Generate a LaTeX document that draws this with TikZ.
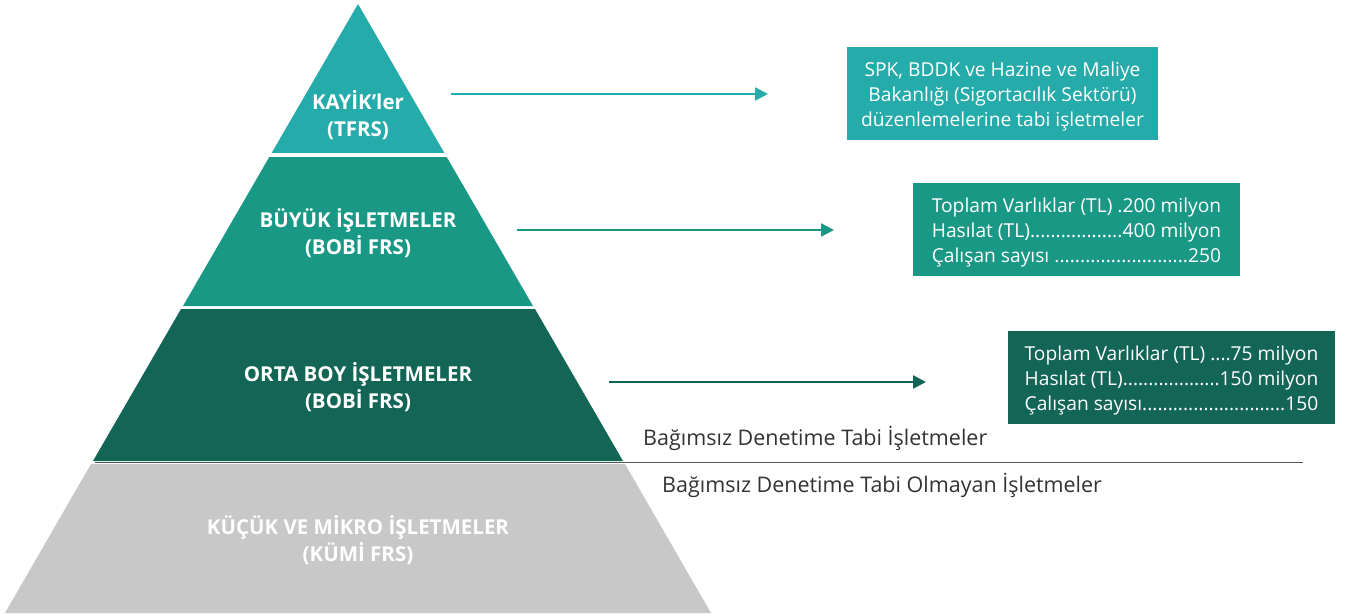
\documentclass[tikz,border=0pt]{standalone}
\usepackage{fontspec}
\setmainfont{Open Sans}
\usetikzlibrary{arrows.meta}
\definecolor{kayik}{HTML}{25ABA9}
\definecolor{buyuk}{HTML}{1A9886}
\definecolor{orta}{HTML}{136556}
\definecolor{kucuk}{HTML}{C8C8C8}
\definecolor{cizgi}{HTML}{555555}
\definecolor{yazi}{HTML}{333333}
\newcommand{\noktalar}{\xleaders\hbox to .26em{\hss.\hss}\hfill}
\newcommand{\satir}[2]{\hbox to \wd0{#1\noktalar#2}}
\newcommand{\asagi}[1]{\raisebox{-3pt}[\height][\depth]{#1}}
\begin{document}
\begin{tikzpicture}[x=1pt,y=-1pt,
    etiket/.style={text=white,font=\bfseries\fontsize{20.5}{27}\selectfont,align=center},
    kutu/.style={minimum width=#1,minimum height=93pt,inner sep=0pt,text=white,
      font=\fontsize{19.2}{25}\selectfont},
    ok/.style={-{Triangle[length=13pt,width=13pt]},line width=2.4pt},
    altyazi/.style={anchor=west,inner sep=0pt,text=yazi,font=\fontsize{21.5}{24}\selectfont}]
\useasboundingbox (0,0) rectangle (1349,615);
\fill[kayik] (358,4) -- (444.4,153) -- (271.6,153) -- cycle;
\fill[buyuk] (269.3,157) -- (446.7,157) -- (533,306) -- (183,306) -- cycle;
\fill[orta] (181,309) -- (535,309) -- (623,461) -- (93,461) -- cycle;
\fill[kucuk] (91,464) -- (625,464) -- (711,613) -- (5,613) -- cycle;
\draw[cizgi,line width=1.8pt] (95,462.5) -- (1303,462.5);
\node[etiket] (kayikler) at (358,115) {KAYİK’ler\\(TFRS)};
\node[etiket] (buyukler) at (358,233) {BÜYÜK İŞLETMELER\\(BOBİ FRS)};
\node[etiket] (ortalar) at (358,387) {ORTA BOY İŞLETMELER\\(BOBİ FRS)};
\node[etiket] (kucukler) at (358,540) {KÜÇÜK VE MİKRO İŞLETMELER\\(KÜMİ FRS)};
\node[kutu=311pt,fill=kayik] (spk) at (1002.5,93.5)
  {\asagi{\begin{tabular}{@{}c@{}}SPK, BDDK ve Hazine ve Maliye\\Bakanlığı (Sigortacılık Sektörü)\\düzenlemelerine tabi işletmeler\end{tabular}}};
\node[kutu=327pt,fill=buyuk] (buyukkutu) at (1076.5,229.5)
  {\setbox0\hbox{Toplam Varlıklar (TL) .200 milyon}\asagi{\vbox{\copy0
   \satir{Hasılat (TL)}{400 milyon}
   \satir{Çalışan sayısı }{250}}}};
\node[kutu=327pt,fill=orta] (ortakutu) at (1171.5,377.5)
  {\setbox0\hbox{Toplam Varlıklar (TL) ....75 milyon}\asagi{\vbox{\copy0
   \satir{Hasılat (TL)}{150 milyon}
   \satir{Çalışan sayısı}{150}}}};
\coordinate (o1) at (451,94);   \coordinate (o1b) at (768,94);
\coordinate (o2) at (517,230);  \coordinate (o2b) at (834,230);
\coordinate (o3) at (609,382);  \coordinate (o3b) at (926,382);
\draw[ok,kayik] (o1) -- (o1b);
\draw[ok,buyuk] (o2) -- (o2b);
\draw[ok,orta] (o3) -- (o3b);
\node[altyazi] (tabi) at (643,438) {Bağımsız Denetime Tabi İşletmeler};
\node[altyazi] (tabidegil) at (662,485) {Bağımsız Denetime Tabi Olmayan İşletmeler};
\end{tikzpicture}
\end{document}
